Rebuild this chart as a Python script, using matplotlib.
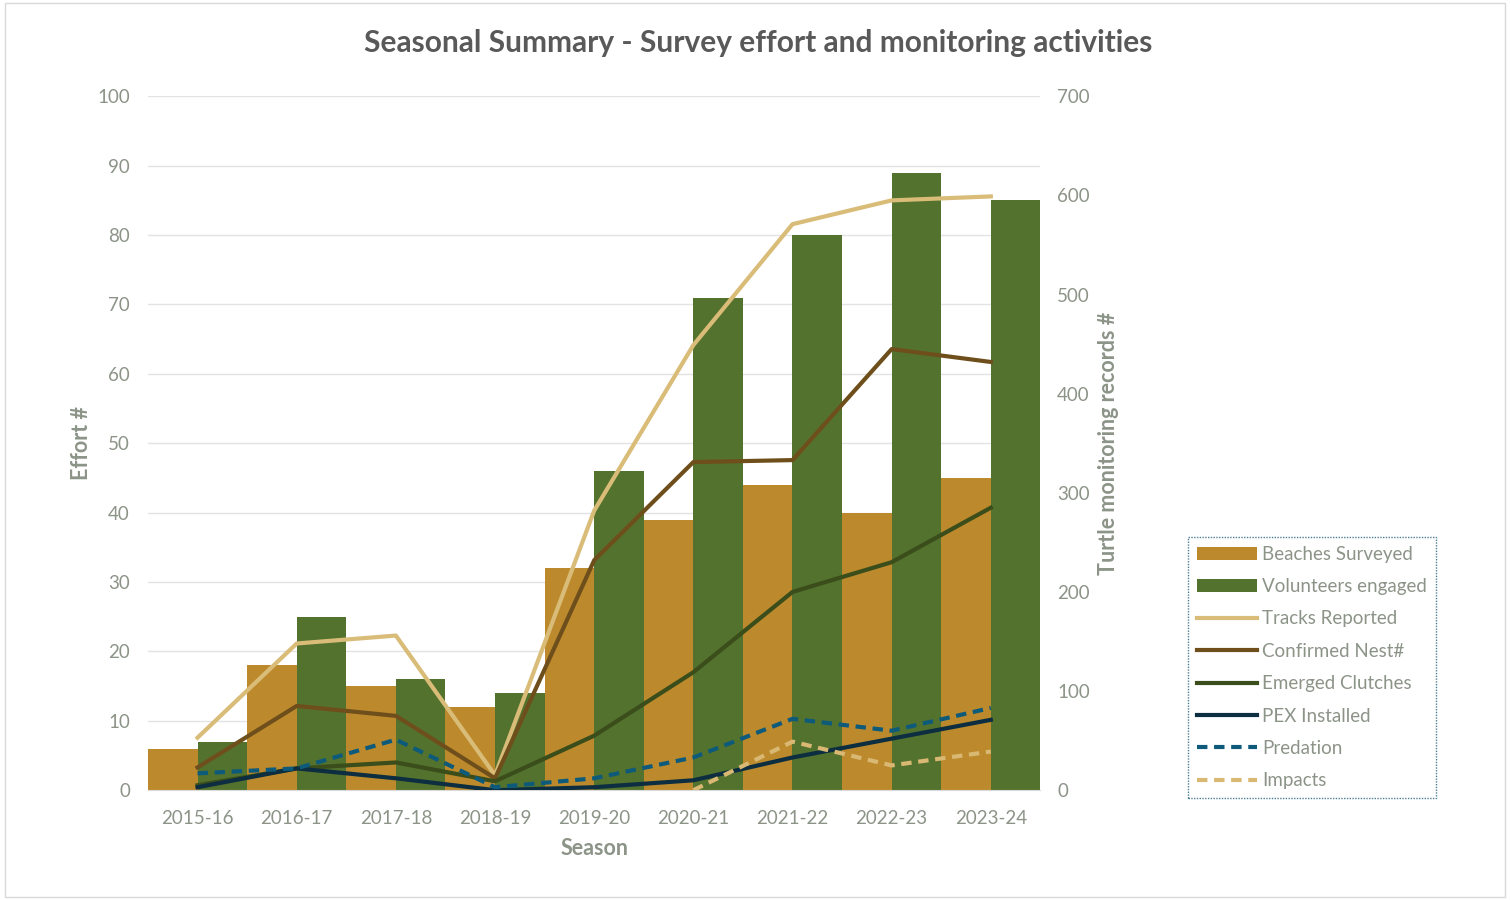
import numpy as np
import matplotlib.pyplot as plt
from matplotlib.patches import Rectangle

# --- Data ---
seasons = ['2015-16', '2016-17', '2017-18', '2018-19', '2019-20',
           '2020-21', '2021-22', '2022-23', '2023-24']
beaches = [6, 18, 15, 12, 32, 39, 44, 40, 45]
volunteers = [7, 25, 16, 14, 46, 71, 80, 89, 85]

tracks = [53, 148, 156, 15, 282, 449, 571, 595, 599]
nests = [23, 85, 75, 12, 232, 331, 333, 445, 432]
emerged = [5, 22, 28, 9, 55, 119, 200, 230, 285]
pex = [3, 22, 12, 0, 3, 10, 33, 52, 71]
predation = [17, 22, 51, 3, 12, 33, 72, 60, 83]
impacts = [np.nan, np.nan, np.nan, np.nan, np.nan, 0, 49, 25, 39]

# --- Style ---
TXT = '#8c9488'
TITLE = '#595959'
plt.rcParams['font.family'] = ['Lato', 'DejaVu Sans']

fig = plt.figure(figsize=(15.1, 9), dpi=100)
fig.patches.append(Rectangle((0.003, 0.003), 0.994, 0.994, transform=fig.transFigure,
                             fill=False, edgecolor='#d9d9d9', lw=1))
ax = fig.add_axes([0.098, 0.122, 0.591, 0.771])
ax2 = ax.twinx()

x = np.arange(len(seasons))
w = 0.5
ax.bar(x - w / 2, beaches, w, color='#bc8a2c', label='Beaches Surveyed', zorder=2)
ax.bar(x + w / 2, volunteers, w, color='#53722d', label='Volunteers engaged', zorder=2)

lw = 3.0
ax2.plot(x, tracks, color='#d9bc78', lw=lw, label='Tracks Reported')
ax2.plot(x, nests, color='#6e4f1c', lw=lw, label='Confirmed Nest#')
ax2.plot(x, emerged, color='#3a4d1a', lw=lw, label='Emerged Clutches')
ax2.plot(x, pex, color='#0c2e40', lw=lw, label='PEX Installed')
ax2.plot(x, predation, color='#0e5a7a', lw=lw, ls=(0, (2.5, 1.6)), label='Predation')
ax2.plot(x, impacts, color='#d8b872', lw=lw, ls=(0, (2.5, 1.6)), label='Impacts')

ax.set_xlim(-0.5, len(seasons) - 0.5)
ax.set_ylim(0, 100)
ax2.set_ylim(0, 700)
ax.set_yticks(np.arange(0, 101, 10))
ax2.set_yticks(np.arange(0, 701, 100))
ax.set_xticks(x)
ax.set_xticklabels(seasons)
ax.grid(axis='y', color='#e3e3e3', lw=1, zorder=0)
ax.set_axisbelow(True)

for a in (ax, ax2):
    for s in a.spines.values():
        s.set_visible(False)
    a.tick_params(length=0, labelsize=13.5, colors=TXT)
ax.spines['bottom'].set_visible(True)
ax.spines['bottom'].set_color('#d9d9d9')
ax.tick_params(axis='y', pad=13)
ax.tick_params(axis='x', pad=14)
ax2.tick_params(axis='y', pad=12)

ax.set_xlabel('Season', color=TXT, fontsize=15.5, fontweight='bold', labelpad=8)
ax.set_ylabel('Effort #', color=TXT, fontsize=15.5, fontweight='bold', labelpad=4)
ax2.set_ylabel('Turtle monitoring records #', color=TXT, fontsize=15.5,
               fontweight='bold', labelpad=6)

fig.suptitle('Seasonal Summary - Survey effort and monitoring activities',
             x=0.502, y=0.968, fontsize=21.5, fontweight='bold', color=TITLE)

h1, l1 = ax.get_legend_handles_labels()
h2, l2 = ax2.get_legend_handles_labels()
leg = fig.legend(h1 + h2, l1 + l2, loc='upper left', bbox_to_anchor=(0.787, 0.403),
                 borderaxespad=0, fontsize=13.5, labelcolor=TXT, frameon=True,
                 fancybox=False, handlelength=3.2, handletextpad=0.3,
                 labelspacing=0.82, borderpad=0.45)
leg.get_frame().set_edgecolor('#1f5f7a')
leg.get_frame().set_linestyle((0, (1, 1)))
leg.get_frame().set_linewidth(1)

fig.savefig('out.png', dpi=100)
